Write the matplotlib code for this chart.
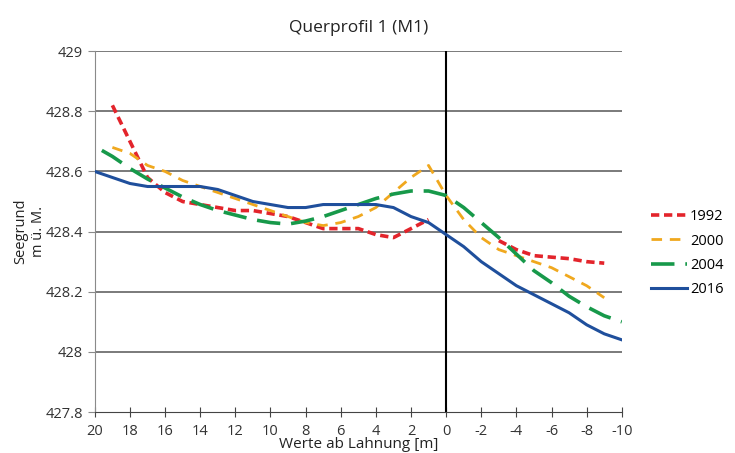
import numpy as np
import matplotlib.pyplot as plt

plt.rcParams['font.family'] = ['Open Sans', 'DejaVu Sans']

# distances from the Lahnung [m]
x_1992 = [19, 18, 17, 16, 15, 14, 13, 12, 11, 10, 9, 8, 7, 6, 5, 4, 3, 2, 1,
          0, -1, -2, -3, -4, -5, -6, -7, -8, -9]
y_1992 = [428.82, 428.70, 428.58, 428.53, 428.50, 428.49, 428.48, 428.47, 428.47,
          428.46, 428.45, 428.43, 428.41, 428.41, 428.41, 428.39, 428.38, 428.41,
          428.44, np.nan, np.nan, np.nan, 428.37, 428.34, 428.32, 428.315,
          428.31, 428.30, 428.295]

x_2000 = [19, 18, 17, 16, 15, 14, 13, 12, 11, 10, 9, 8, 7, 6, 5, 4, 3, 2, 1,
          0, -1, -2, -3, -4, -5, -6, -7, -8, -9]
y_2000 = [428.68, 428.66, 428.62, 428.60, 428.57, 428.55, 428.53, 428.51, 428.49,
          428.47, 428.45, 428.43, 428.42, 428.43, 428.45, 428.48, 428.53, 428.58,
          428.62, 428.52, 428.44, 428.38, 428.34, 428.32, 428.30, 428.28, 428.25,
          428.22, 428.18]

x_2004 = [19.6, 19, 18, 17, 16, 15, 14, 13, 12, 11, 10, 9, 8, 7, 6, 5, 4, 3, 2, 1,
          0, -1, -2, -3, -4, -5, -6, -7, -8, -9, -10]
y_2004 = [428.67, 428.65, 428.61, 428.575, 428.545, 428.515, 428.49, 428.47, 428.455,
          428.44, 428.43, 428.425, 428.435, 428.45, 428.47, 428.49, 428.51, 428.525,
          428.535, 428.535, 428.52, 428.48, 428.43, 428.38, 428.325, 428.27, 428.23,
          428.185, 428.15, 428.12, 428.10]

x_2016 = [20, 19, 18, 17, 16, 15, 14, 13, 12, 11, 10, 9, 8, 7, 6, 5, 4, 3, 2, 1,
          0, -1, -2, -3, -4, -5, -6, -7, -8, -9, -10]
y_2016 = [428.60, 428.58, 428.56, 428.55, 428.55, 428.55, 428.55, 428.54, 428.52,
          428.50, 428.49, 428.48, 428.48, 428.49, 428.49, 428.49, 428.49, 428.48,
          428.45, 428.43, 428.39, 428.35, 428.30, 428.26, 428.22, 428.19, 428.16,
          428.13, 428.09, 428.06, 428.04]

x_ticks = list(range(20, -11, -2))
y_ticks = [427.8, 428, 428.2, 428.4, 428.6, 428.8, 429]
y_labels = ['427.8', '428', '428.2', '428.4', '428.6', '428.8', '429']

fig = plt.figure(figsize=(7.35, 4.53), dpi=100)
ax = fig.add_axes([0.129, 0.0905, 0.717, 0.7965])

for yv in y_ticks[1:]:
    ax.axhline(yv, color='#7a7a7a', lw=1.4, zorder=1)
ax.axvline(0, color='black', lw=1.5, zorder=2)

ax.plot(x_1992, y_1992, color='#e3242b', lw=2.6, dashes=(2.3, 1.3), label='1992', zorder=3)
ax.plot(x_2000, y_2000, color='#f0a81e', lw=2.0, dashes=(3.8, 2.8), label='2000', zorder=3)
ax.plot(x_2004, y_2004, color='#17994a', lw=2.6, dashes=(6.5, 3.0), label='2004', zorder=3)
ax.plot(x_2016, y_2016, color='#1f4f9c', lw=2.2, label='2016', zorder=4)

ax.set_xlim(20, -10)
ax.set_ylim(427.8, 429)
ax.set_xticks(x_ticks)
ax.set_xticklabels([str(v) for v in x_ticks])
ax.set_yticks(y_ticks)
ax.set_yticklabels(y_labels)

for s in ['top', 'right']:
    ax.spines[s].set_visible(False)
ax.spines['left'].set_color('#8a8a8a')
ax.spines['bottom'].set_color('#444444')
ax.tick_params(axis='y', colors='#8a8a8a', labelcolor='#333333', labelsize=10.5,
               length=5, direction='out')
ax.tick_params(axis='x', colors='#444444', labelcolor='#333333', labelsize=10.5,
               length=7, direction='inout', pad=5)

ax.set_title('Querprofil 1 (M1)', fontsize=12.5, color='#222222', pad=14)
ax.set_xlabel('Werte ab Lahnung [m]', fontsize=11, color='#222222', labelpad=-1)
ax.set_ylabel('Seegrund\nm ü. M.', fontsize=10.5, color='#222222', labelpad=0)

ax.legend(loc='center left', bbox_to_anchor=(1.03, 0.44), frameon=False,
          fontsize=10.5, handlelength=2.5, handletextpad=0.2, labelspacing=0.65)

fig.savefig('out.png', dpi=100)
